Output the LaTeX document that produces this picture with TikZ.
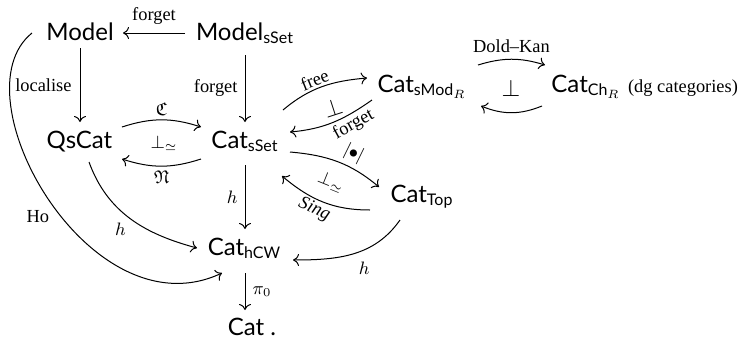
\documentclass[tikz,border=0pt]{standalone}
\usepackage{amsmath,amssymb}
\usepackage{fontspec}
\setmainfont{Liberation Serif}
\setsansfont{Lato}
\usetikzlibrary{arrows.meta,calc}
\newcommand\sfx[1]{\text{\sffamily #1}}
\tikzset{
  x=0.5pt, y=0.5pt,
  obj/.style={anchor=base, inner sep=0pt, font=\fontsize{12}{14}\selectfont\sffamily},
  lab/.style={inner sep=0pt, font=\fontsize{9.2}{11}\selectfont},
  big/.style={inner sep=0pt, font=\fontsize{12}{14}\selectfont},
  arr/.style={line width=0.5pt, -{Computer Modern Rightarrow[length=3pt,width=6pt]}}
}
\begin{document}
\begin{tikzpicture}
\useasboundingbox (0,0) rectangle (746,-343);

% objects
\node[obj] (model) at (80,-40) {Model};
\node[obj] (mss)   at (245,-40) {$\sfx{Model}_{\sfx{sSet}}$};
\node[obj] (qs)    at (79.5,-148) {QsCat};
\node[obj] (css)   at (245,-148) {$\sfx{Cat}_{\sfx{sSet}}$};
\node[obj] (csmod) at (422,-92) {$\sfx{Cat}_{\sfx{sMod}_R}$};
\node[obj] (cch)   at (586,-92) {$\sfx{Cat}_{\sfx{Ch}_R}$};
\node[lab, anchor=base] (dg) at (683,-92) {(dg categories)};
\node[obj] (ctop)  at (422,-202) {$\sfx{Cat}_{\sfx{Top}}$};
\node[obj] (chcw)  at (244.5,-255) {$\sfx{Cat}_{\sfx{hCW}}$};
\node[obj] (cat)   at (252,-335) {Cat .};

% adjunction marks
\node[lab] (adj1) at (164,-143) {$\perp_{\simeq}$};
\node[big, rotate=18] (adj2) at (333,-108) {$\perp$};
\node[big] (adj3) at (511,-88) {$\perp$};
\node[lab, rotate=-22] (adj4) at (331,-182) {$\perp_{\simeq}$};

% top row and verticals
\draw[arr] ($(mss.base)+(-60,7)$) -- node[lab, above=4pt] {forget} ($(model.base)+(43,7)$);
\draw[arr] ($(model.base)+(0,-8)$) -- node[lab, left=4pt] {localise} ($(qs.base)+(0.5,26)$);
\draw[arr] ($(mss.base)+(0,-15)$) -- node[lab, left=3.5pt] {forget} ($(css.base)+(0,26)$);
\draw[arr] ($(css.base)+(0,-17)$) -- node[lab, left=3.5pt] {$h$} ($(chcw.base)+(0.5,26)$);
\draw[arr] ($(chcw.base)+(0.5,-18)$) -- node[lab, right=3.5pt] {$\pi_0$} ($(cat.base)+(-7,25)$);

% QsCat <-> Cat_sSet
\draw[arr] ($(qs.base)+(42.5,21)$) to[bend left=18] node[lab, above=2pt] {$\mathfrak{C}$} ($(css.base)+(-44,21)$);
\draw[arr] ($(css.base)+(-44,-11)$) to[bend left=18] node[lab, below=2pt] {$\mathfrak{N}$} ($(qs.base)+(42.5,-11)$);

% Cat_sSet <-> Cat_sMod
\draw[arr] ($(css.base)+(38,38)$) to[out=40,in=185] node[lab, sloped, above=1pt, pos=0.45] {free} ($(csmod.base)+(-55,14)$);
\draw[arr] ($(csmod.base)+(-50,-8)$) to[out=215,in=5] node[lab, sloped, below=1pt, pos=0.3] {forget} ($(css.base)+(45,16)$);

% Dold--Kan
\draw[arr] ($(csmod.base)+(56,27)$) to[bend left=17] node[lab, above=3pt] {Dold--Kan} ($(cch.base)+(-41,27)$);
\draw[arr] ($(cch.base)+(-44,-14)$) to[bend left=22] ($(csmod.base)+(59,-14)$);

% Cat_sSet <-> Cat_Top
\draw[arr] ($(css.base)+(45,-4)$) to[out=-5,in=140] node[lab, sloped, above=2pt, pos=0.62] {$|{\bullet}|$} ($(ctop.base)+(-43,15)$);
\draw[arr] ($(ctop.base)+(-52,-8)$) to[out=180,in=-40] node[lab, sloped, below=1pt, pos=0.55] {\textit{Sing}} ($(css.base)+(37,-28)$);

% maps into Cat_hCW
\draw[arr] ($(qs.base)+(9.5,-14)$) to[out=-70,in=165] node[lab, pos=0.5, below left=2pt] {$h$} ($(chcw.base)+(-47.5,7)$);
\draw[arr] ($(ctop.base)+(-22,-18)$) to[out=235,in=0] node[lab, pos=0.4, below=6pt] {$h$} ($(chcw.base)+(48.5,-5)$);
\draw[arr] ($(model.base)+(-48,7)$) .. controls +(-77,-62) and +(-132,-62) .. node[lab, pos=0.55, left=6pt] {Ho} ($(chcw.base)+(-22.5,-18)$);
\end{tikzpicture}
\end{document}
